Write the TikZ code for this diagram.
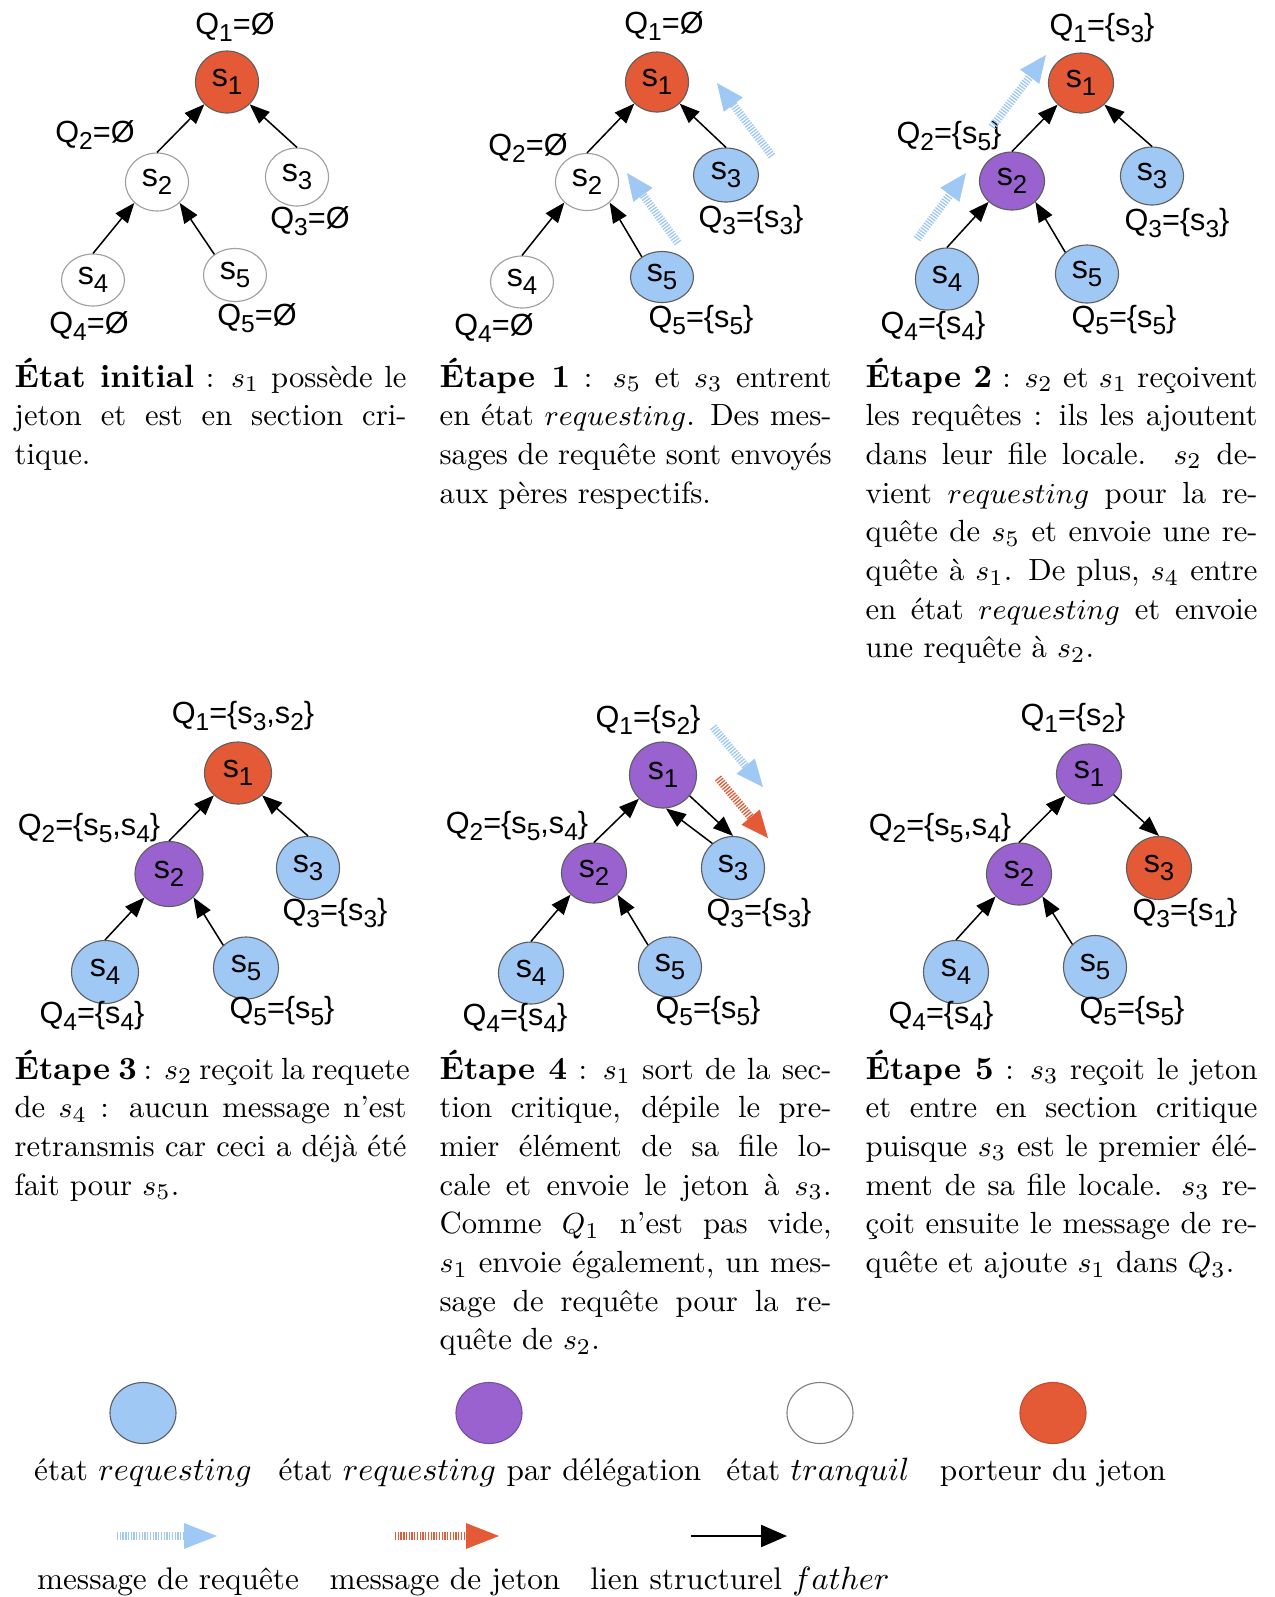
\documentclass[tikz,border=0pt]{standalone}
\usepackage{fontspec}
\usepackage{graphicx}
\usetikzlibrary{shapes.geometric,arrows.meta,calc}
\newfontfamily\arialf{Liberation Sans}

\definecolor{reqblue}{HTML}{9FC8F5}
\definecolor{delpurple}{HTML}{9A62CE}
\definecolor{tokred}{HTML}{E45A36}
\definecolor{rimgray}{HTML}{5F5F5F}

% caption column width and justified / last lines
\newlength\cw \setlength\cw{121.5pt}
\newcommand\jline[1]{\hbox to \cw{#1}}
\newcommand\fline[1]{\hbox to \cw{#1\hfil}}
% bold step heading inside the captions
\newcommand\stepname[1]{{\fontsize{10pt}{12pt}\selectfont\bfseries #1}}
% lowered index in the sans labels
\newcommand\lowd[1]{\raisebox{-0.25em}{\scalebox{0.8}{#1}}}

% thick dotted message arrow: colour, tail, tip, head length, head half width, shaft width
\newcommand\fatarrow[6]{%
  \coordinate (fabase) at ($(#3)!#4!(#2)$);
  \draw[#1, line width=#6, dash pattern=on 0.4pt off 0.45pt] (#2) -- (fabase);
  \fill[#1] (#3) -- ($(fabase)!#5!90:(#3)$) -- ($(fabase)!#5!-90:(#3)$) -- cycle;}

\tikzset{
  px/.style 2 args={minimum width=#1*0.31pt, minimum height=#2*0.31pt},
  st/.style={ellipse, draw=rimgray, line width=0.35pt, inner sep=0pt,
    font=\arialf\fontsize{10pt}{12pt}\selectfont},
  idle/.style={st, fill=white, draw=gray!75},
  req/.style={st, fill=reqblue},
  dlg/.style={st, fill=delpurple},
  tok/.style={st, fill=tokred},
  ql/.style={anchor=base, inner sep=0pt, font=\arialf\fontsize{9.5pt}{11pt}\selectfont},
  father/.style={line width=0.47pt, -{Triangle[length=6.2pt,width=4.8pt]}},
  captext/.style={anchor=base west, inner sep=0pt, font=\fontsize{9.5pt}{12pt}\selectfont},
  lgtext/.style={anchor=base, inner sep=0pt, font=\fontsize{9.7pt}{12pt}\selectfont},
  lgell/.style={ellipse, inner sep=0pt, line width=0.35pt, px={66}{61}},
}

\begin{document}
\begin{tikzpicture}[x=0.31pt,y=-0.31pt]
\useasboundingbox (0,0) rectangle (1275,1597);
\fill[white] (0,0) rectangle (1275,1597);

% ---------- initial state ----------
\node[tok, px={63}{62}] (a1) at (227,82) {s\lowd{1}};
\node[idle, px={63}{58}] (a2) at (157,182) {s\lowd{2}};
\node[idle, px={63}{58}] (a3) at (297,177) {s\lowd{3}};
\node[idle, px={63}{52}] (a4) at (93,280) {s\lowd{4}};
\node[idle, px={63}{53}] (a5) at (235,275) {s\lowd{5}};
\node[ql] (aq1) at (235,34) {Q\lowd{1}=Ø};
\node[ql] (aq2) at (95,142) {Q\lowd{2}=Ø};
\node[ql] (aq3) at (310,228) {Q\lowd{3}=Ø};
\node[ql] (aq4) at (89,333) {Q\lowd{4}=Ø};
\node[ql] (aq5) at (257,325) {Q\lowd{5}=Ø};
\draw[father] (a2.north) -- (a1.south west);
\draw[father] (a3.north) -- (a1.south east);
\draw[father] (a4.north) -- (a2.south west);
\draw[father] (a5.135) -- (a2.south east);

% ---------- step 1 ----------
\node[tok, px={63}{60}] (b1) at (657,82) {s\lowd{1}};
\node[idle, px={63}{57}] (b2) at (587,182) {s\lowd{2}};
\node[req, px={65}{54}] (b3) at (726,175) {s\lowd{3}};
\node[idle, px={63}{52}] (b4) at (522,282) {s\lowd{4}};
\node[req, px={63}{51}] (b5) at (662,277) {s\lowd{5}};
\node[ql] (bq1) at (664,33) {Q\lowd{1}=Ø};
\node[ql] (bq2) at (528,155) {Q\lowd{2}=Ø};
\node[ql] (bq3) at (751,227) {Q\lowd{3}=\{s\lowd{3}\}};
\node[ql] (bq4) at (494,335) {Q\lowd{4}=Ø};
\node[ql] (bq5) at (701,327) {Q\lowd{5}=\{s\lowd{5}\}};
\draw[father] (b2.north) -- (b1.south west);
\draw[father] (b3.north) -- (b1.south east);
\draw[father] (b4.north) -- (b2.south west);
\draw[father] (b5.135) -- (b2.south east);
\coordinate (bm1t) at (678,243); \coordinate (bm1h) at (627,173);
\fatarrow{reqblue}{bm1t}{bm1h}{8.4pt}{3.7pt}{2.5pt}
\coordinate (bm2t) at (772,156); \coordinate (bm2h) at (717,83);
\fatarrow{reqblue}{bm2t}{bm2h}{8.4pt}{3.7pt}{2.5pt}

% ---------- step 2 ----------
\node[tok, px={65}{60}] (c1) at (1081,83) {s\lowd{1}};
\node[dlg, px={65}{58}] (c2) at (1012,181) {s\lowd{2}};
\node[req, px={63}{58}] (c3) at (1152,176) {s\lowd{3}};
\node[req, px={63}{62}] (c4) at (947,279) {s\lowd{4}};
\node[req, px={63}{58}] (c5) at (1087,274) {s\lowd{5}};
\node[ql] (cq1) at (1102,35) {Q\lowd{1}=\{s\lowd{3}\}};
\node[ql] (cq2) at (949,143) {Q\lowd{2}=\{s\lowd{5}\}};
\node[ql] (cq3) at (1177,230) {Q\lowd{3}=\{s\lowd{3}\}};
\node[ql] (cq4) at (933,333) {Q\lowd{4}=\{s\lowd{4}\}};
\node[ql] (cq5) at (1124,327) {Q\lowd{5}=\{s\lowd{5}\}};
\draw[father] (c2.north) -- (c1.south west);
\draw[father] (c3.north) -- (c1.south east);
\draw[father] (c4.north) -- (c2.south west);
\draw[father] (c5.135) -- (c2.south east);
\coordinate (cm1t) at (992,127); \coordinate (cm1h) at (1046,55);
\fatarrow{reqblue}{cm1t}{cm1h}{8.4pt}{3.7pt}{2.5pt}
\coordinate (cm2t) at (917,239); \coordinate (cm2h) at (966,173);
\fatarrow{reqblue}{cm2t}{cm2h}{8.4pt}{3.7pt}{2.5pt}

% ---------- step 3 ----------
\node[tok, px={67}{62}] (d1) at (238,773) {s\lowd{1}};
\node[dlg, px={68}{65}] (d2) at (169,874) {s\lowd{2}};
\node[req, px={63}{63}] (d3) at (308,868) {s\lowd{3}};
\node[req, px={67}{63}] (d4) at (105,972) {s\lowd{4}};
\node[req, px={65}{62}] (d5) at (246,968) {s\lowd{5}};
\node[ql] (dq1) at (243,723) {Q\lowd{1}=\{s\lowd{3},s\lowd{2}\}};
\node[ql] (dq2) at (89,835) {Q\lowd{2}=\{s\lowd{5},s\lowd{4}\}};
\node[ql] (dq3) at (335,920) {Q\lowd{3}=\{s\lowd{3}\}};
\node[ql] (dq4) at (92,1023) {Q\lowd{4}=\{s\lowd{4}\}};
\node[ql] (dq5) at (282,1018) {Q\lowd{5}=\{s\lowd{5}\}};
\draw[father] (d2.north) -- (d1.south west);
\draw[father] (d3.north) -- (d1.south east);
\draw[father] (d4.north) -- (d2.south west);
\draw[father] (d5.135) -- (d2.south east);

% ---------- step 4 ----------
\node[dlg, px={67}{66}] (e1) at (663,775) {s\lowd{1}};
\node[dlg, px={65}{60}] (e2) at (594,873) {s\lowd{2}};
\node[req, px={63}{63}] (e3) at (733,868) {s\lowd{3}};
\node[req, px={65}{62}] (e4) at (531,973) {s\lowd{4}};
\node[req, px={63}{60}] (e5) at (670,967) {s\lowd{5}};
\node[ql] (eq1) at (648,727) {Q\lowd{1}=\{s\lowd{2}\}};
\node[ql] (eq2) at (517,833) {Q\lowd{2}=\{s\lowd{5},s\lowd{4}\}};
\node[ql] (eq3) at (759,920) {Q\lowd{3}=\{s\lowd{3}\}};
\node[ql] (eq4) at (515,1025) {Q\lowd{4}=\{s\lowd{4}\}};
\node[ql] (eq5) at (708,1018) {Q\lowd{5}=\{s\lowd{5}\}};
\draw[father] (e2.north) -- (e1.south west);
\draw[father] (e3.130) -- (e1.-85);
\draw[father] (e1.-38) -- (e3.north);
\draw[father] (e4.north) -- (e2.south west);
\draw[father] (e5.135) -- (e2.south east);
\coordinate (em1t) at (713,727); \coordinate (em1h) at (763,787);
\fatarrow{reqblue}{em1t}{em1h}{8.4pt}{3.7pt}{2.5pt}
\coordinate (em2t) at (718,778); \coordinate (em2h) at (768,838);
\fatarrow{tokred}{em2t}{em2h}{8.4pt}{3.7pt}{2.5pt}

% ---------- step 5 ----------
\node[dlg, px={65}{60}] (f1) at (1089,774) {s\lowd{1}};
\node[dlg, px={65}{62}] (f2) at (1019,874) {s\lowd{2}};
\node[tok, px={65}{63}] (f3) at (1159,868) {s\lowd{3}};
\node[req, px={65}{63}] (f4) at (956,972) {s\lowd{4}};
\node[req, px={63}{63}] (f5) at (1095,967) {s\lowd{5}};
\node[ql] (fq1) at (1073,725) {Q\lowd{1}=\{s\lowd{2}\}};
\node[ql] (fq2) at (940,835) {Q\lowd{2}=\{s\lowd{5},s\lowd{4}\}};
\node[ql] (fq3) at (1185,920) {Q\lowd{3}=\{s\lowd{1}\}};
\node[ql] (fq4) at (941,1023) {Q\lowd{4}=\{s\lowd{4}\}};
\node[ql] (fq5) at (1132,1018) {Q\lowd{5}=\{s\lowd{5}\}};
\draw[father] (f2.north) -- (f1.south west);
\draw[father] (f1.-40) -- (f3.north);
\draw[father] (f4.north) -- (f2.south west);
\draw[father] (f5.135) -- (f2.south east);

% ---------- captions ----------
\node[captext] (capa) at (14,387) {\vtop{%
  \jline{\stepname{État initial} : $s_1$ possède le}
  \jline{jeton et est en section cri-}
  \fline{tique.}}};
\node[captext] (capb) at (439,387) {\vtop{%
  \jline{\stepname{Étape 1} : $s_5$ et $s_3$ entrent}
  \jline{en état $requesting$. Des mes-}
  \jline{sages de requête sont envoyés}
  \fline{aux pères respectifs.}}};
\node[captext] (capc) at (865,387) {\vtop{%
  \jline{\stepname{Étape 2} : $s_2$ et $s_1$ reçoivent}
  \jline{les requêtes : ils les ajoutent}
  \jline{dans leur file locale. $s_2$ de-}
  \jline{vient $requesting$ pour la re-}
  \jline{quête de $s_5$ et envoie une re-}
  \jline{quête à $s_1$. De plus, $s_4$ entre}
  \jline{en état $requesting$ et envoie}
  \fline{une requête à $s_2$.}}};
\node[captext] (capd) at (14,1079) {\vtop{%
  \jline{\stepname{Étape 3} : $s_2$ reçoit la requete}
  \jline{de $s_4$ : aucun message n'est}
  \jline{retransmis car ceci a déjà été}
  \fline{fait pour $s_5$.}}};
\node[captext] (cape) at (439,1079) {\vtop{%
  \jline{\stepname{Étape 4} : $s_1$ sort de la sec-}
  \jline{tion critique, dépile le pre-}
  \jline{mier élément de sa file lo-}
  \jline{cale et envoie le jeton à $s_3$.}
  \jline{Comme $Q_1$ n'est pas vide,}
  \jline{$s_1$ envoie également, un mes-}
  \jline{sage de requête pour la re-}
  \fline{quête de $s_2$.}}};
\node[captext] (capf) at (865,1079) {\vtop{%
  \jline{\stepname{Étape 5} : $s_3$ reçoit le jeton}
  \jline{et entre en section critique}
  \jline{puisque $s_3$ est le premier élé-}
  \jline{ment de sa file locale. $s_3$ re-}
  \jline{çoit ensuite le message de re-}
  \fline{quête et ajoute $s_1$ dans $Q_3$.}}};

% ---------- legend ----------
\node[lgell, fill=reqblue, draw=rimgray] (lg1) at (143,1413) {};
\node[lgell, fill=delpurple, draw=delpurple!80!black] (lg2) at (489,1413) {};
\node[lgell, fill=white, draw=gray] (lg3) at (820,1413) {};
\node[lgell, fill=tokred, draw=tokred!85!black] (lg4) at (1053,1413) {};
\node[lgtext] (lt1) at (143,1480) {état $requesting$};
\node[lgtext] (lt2) at (490,1480) {état $requesting$ par délégation};
\node[lgtext] (lt3) at (818,1480) {état $tranquil$};
\node[lgtext] (lt4) at (1053,1480) {porteur du jeton};

\coordinate (lr1) at (117,1536); \coordinate (lr2) at (217,1536);
\fatarrow{reqblue}{lr1}{lr2}{10.2pt}{4pt}{2.2pt}
\coordinate (lj1) at (395,1536); \coordinate (lj2) at (499,1536);
\fatarrow{tokred}{lj1}{lj2}{10.2pt}{4pt}{2.2pt}
\coordinate (lf1) at (691,1536); \coordinate (lf2) at (787,1536);
\draw[line width=0.6pt, -{Triangle[length=8pt,width=6.8pt]}] (lf1) -- (lf2);
\node[lgtext] (lt5) at (168,1589) {message de requête};
\node[lgtext] (lt6) at (445,1589) {message de jeton};
\node[lgtext] (lt7) at (740,1589) {lien structurel $father$};
\end{tikzpicture}
\end{document}
